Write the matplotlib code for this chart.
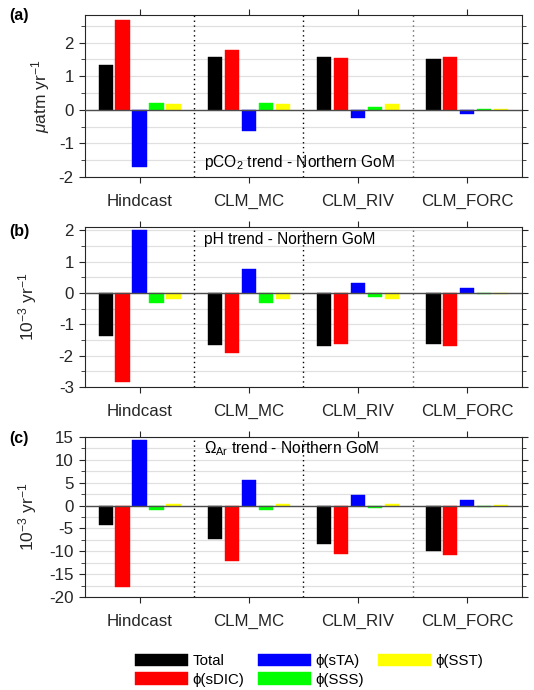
import numpy as np
import matplotlib
matplotlib.use('Agg')
import matplotlib.pyplot as plt
from matplotlib.ticker import MultipleLocator

plt.rcParams['font.family'] = ['Liberation Sans', 'DejaVu Sans']
plt.rcParams['mathtext.fontset'] = 'custom'
plt.rcParams['mathtext.rm'] = 'Liberation Sans'
plt.rcParams['mathtext.it'] = 'Liberation Sans:italic'
plt.rcParams['axes.unicode_minus'] = False

runs = ['Hindcast', 'CLM_MC', 'CLM_RIV', 'CLM_FORC']
series = ['Total', 'ϕ(sDIC)', 'ϕ(sTA)', 'ϕ(SSS)', 'ϕ(SST)']
colors = ['#000000', '#ff0000', '#0000ff', '#00ff00', '#ffff00']

# rows = runs, columns = series (Total, sDIC, sTA, SSS, SST)
pco2 = [[1.33, 2.67, -1.70, 0.20, 0.18],
        [1.56, 1.78, -0.64, 0.20, 0.18],
        [1.57, 1.53, -0.25, 0.08, 0.18],
        [1.52, 1.57, -0.14, 0.03, 0.03]]
ph = [[-1.36, -2.85, 2.00, -0.32, -0.21],
      [-1.66, -1.90, 0.77, -0.31, -0.21],
      [-1.69, -1.64, 0.30, -0.12, -0.21],
      [-1.63, -1.70, 0.16, -0.05, -0.04]]
omega = [[-4.2, -17.9, 14.4, -1.0, 0.37],
         [-7.3, -12.1, 5.5, -1.0, 0.37],
         [-8.5, -10.6, 2.2, -0.44, 0.37],
         [-9.9, -10.9, 1.17, -0.22, 0.1]]

fig = plt.figure(figsize=(5.34, 6.9), dpi=100)

panels = [
    # data, rect, ylim, major, minor, ylabel, title, title_y, label, label_y, ylabel_x
    (pco2, [0.159, 0.7435, 0.8184, 0.2348], (-2, 2.82), 1, 0.5,
     r'$\mu$atm yr$^{-1}$', r'pCO$_2$ trend - Northern GoM', 0.09, '(a)', 0.978, -0.075),
    (ph, [0.159, 0.4391, 0.8184, 0.2319], (-3, 2.1), 1, 0.5,
     r'10$^{-3}$ yr$^{-1}$', 'pH trend - Northern GoM', 0.925, '(b)', 0.665, -0.105),
    (omega, [0.159, 0.1348, 0.8184, 0.2319], (-20, 15), 5, 2.5,
     r'10$^{-3}$ yr$^{-1}$', r'$\Omega_{\rm Ar}$ trend - Northern GoM', 0.925, '(c)', 0.365, -0.105),
]

x = np.arange(1, len(runs) + 1)
offsets = [-0.31, -0.155, 0.0, 0.155, 0.31]
width = 0.13

for data, rect, ylim, major, minor, ylab, title, ty, lab, ly, ylx in panels:
    ax = fig.add_axes(rect)
    vals = np.array(data)
    for j in range(len(series)):
        ax.bar(x + offsets[j], vals[:, j], width, color=colors[j],
               edgecolor=colors[j], linewidth=0.3, label=series[j], zorder=3)
    ax.set_xlim(0.5, 4.5)
    ax.set_ylim(*ylim)
    ax.yaxis.set_major_locator(MultipleLocator(major))
    ax.yaxis.set_minor_locator(MultipleLocator(minor))
    ax.set_xticks(x)
    ax.set_xticklabels(runs)
    ax.grid(axis='y', which='both', color='0.88', linewidth=0.9, zorder=0)
    ax.axhline(0, color='0.3', linewidth=1.0, zorder=4)
    for xv, c in zip([1.5, 2.5, 3.5], ['k', 'k', '0.4']):
        ax.axvline(xv, color=c, linestyle=(0, (1, 2.5)), linewidth=1.0, zorder=2)
    ax.tick_params(which='both', direction='out', top=True, right=True,
                   colors='0.15', labelsize=12.2)
    ax.tick_params(which='major', length=4)
    ax.tick_params(which='minor', length=3)
    ax.tick_params(axis='x', pad=8)
    ax.tick_params(axis='y', pad=4)
    for s in ax.spines.values():
        s.set_color('0.15')
        s.set_linewidth(0.8)
    ax.set_ylabel(ylab, fontsize=12.5, color='0.15')
    ax.yaxis.set_label_coords(ylx, 0.5)
    ax.text(0.272, ty, title, transform=ax.transAxes, fontsize=11.2,
            va='center', ha='left', zorder=5)
    fig.text(0.018, ly, lab, fontsize=11.5, fontweight='bold', va='center')

handles, labels = ax.get_legend_handles_labels()
fig.legend(handles, labels, ncol=3, loc='upper left',
           bbox_to_anchor=(135 / 534, 1 - 654 / 690), frameon=False,
           fontsize=10.8, handlelength=3.5, handleheight=0.9, handletextpad=0.35,
           columnspacing=0.9, labelspacing=0.25, borderpad=0, borderaxespad=0)

fig.savefig('out.png', dpi=100)
